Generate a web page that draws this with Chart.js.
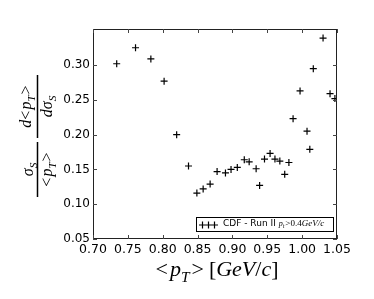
<!DOCTYPE html>
<html>
<head>
<meta charset="utf-8">
<script src="https://cdn.jsdelivr.net/npm/chart.js@4/dist/chart.umd.min.js"></script>
<style>
  html, body { margin: 0; padding: 0; background: #fff; }
</style>
</head>
<body>
<canvas id="c" width="374" height="299"></canvas>
<script>
const meanPt = [0.734, 0.761, 0.783, 0.802, 0.820, 0.837, 0.849, 0.858, 0.868, 0.878,
  0.890, 0.898, 0.907, 0.917, 0.924, 0.934, 0.939, 0.946, 0.954, 0.961,
  0.968, 0.975, 0.981, 0.987, 0.997, 1.007, 1.011, 1.016, 1.030, 1.040, 1.047];
const ratio = [0.302, 0.325, 0.309, 0.277, 0.200, 0.155, 0.116, 0.122, 0.129, 0.147,
  0.145, 0.150, 0.153, 0.164, 0.161, 0.151, 0.127, 0.165, 0.173, 0.165,
  0.162, 0.143, 0.160, 0.223, 0.263, 0.205, 0.179, 0.295, 0.339, 0.259, 0.252];
const xTicks = [0.70, 0.75, 0.80, 0.85, 0.90, 0.95, 1.00, 1.05];
const yTicks = [0.05, 0.10, 0.15, 0.20, 0.25, 0.30];

const SERIF = '"Liberation Serif", "DejaVu Serif", serif';
const SANS = '"DejaVu Sans", sans-serif';

// draw a run of math-ish pieces, centred on x
function mathRun(ctx, parts, x, y, size) {
  const widths = parts.map(p => {
    ctx.font = (p.it ? 'italic ' : '') + (p.sub ? size * 0.7 : size) + 'px ' + SERIF;
    return ctx.measureText(p.t).width + (p.gap || 0);
  });
  let cx = x - widths.reduce((a, b) => a + b, 0) / 2;
  parts.forEach((p, i) => {
    ctx.font = (p.it ? 'italic ' : '') + (p.sub ? size * 0.7 : size) + 'px ' + SERIF;
    ctx.fillText(p.t, cx, p.sub ? y + size * 0.25 : y);
    cx += widths[i];
  });
}

const decor = {
  id: 'decor',
  afterDraw(chart) {
    const ctx = chart.ctx;
    const a = chart.chartArea;
    const xs = chart.scales.x, ys = chart.scales.y;
    ctx.save();
    // frame
    ctx.strokeStyle = '#222';
    ctx.lineWidth = 1;
    ctx.strokeRect(a.left + 0.5, a.top + 0.5, a.right - a.left - 1, a.bottom - a.top - 1);
    // inward ticks on all sides
    ctx.strokeStyle = '#444';
    ctx.beginPath();
    xTicks.forEach(v => {
      const px = Math.round(xs.getPixelForValue(v)) + 0.5;
      ctx.moveTo(px, a.bottom); ctx.lineTo(px, a.bottom - 4);
      ctx.moveTo(px, a.top); ctx.lineTo(px, a.top + 4);
    });
    yTicks.forEach(v => {
      const py = Math.round(ys.getPixelForValue(v)) + 0.5;
      ctx.moveTo(a.left, py); ctx.lineTo(a.left + 4, py);
      ctx.moveTo(a.right, py); ctx.lineTo(a.right - 4, py);
    });
    ctx.stroke();

    // legend box
    const lx = 196, ly = 217, lw = 137, lh = 14;
    ctx.fillStyle = '#fff';
    ctx.fillRect(lx, ly, lw, lh);
    ctx.strokeStyle = '#000';
    ctx.strokeRect(lx + 0.5, ly + 0.5, lw, lh);
    ctx.lineWidth = 1.2;
    ctx.beginPath();
    [202.5, 208.5, 214.5].forEach(mx => {
      ctx.moveTo(mx - 3.5, 225); ctx.lineTo(mx + 3.5, 225);
      ctx.moveTo(mx, 221.5); ctx.lineTo(mx, 228.5);
    });
    ctx.stroke();
    ctx.fillStyle = '#000';
    ctx.textBaseline = 'middle';
    ctx.textAlign = 'left';
    ctx.font = '9px ' + SANS;
    const lbl = 'CDF - Run II ';
    ctx.fillText(lbl, 223, 224);
    let tx = 223 + ctx.measureText(lbl).width;
    ctx.font = 'italic 8px ' + SERIF;
    ctx.fillText('p', tx, 224);
    tx += ctx.measureText('p').width;
    ctx.font = 'italic 6px ' + SERIF;
    ctx.fillText('t', tx, 226);
    tx += ctx.measureText('t').width + 1;
    ctx.font = '9px ' + SERIF;
    ctx.fillText('>0.4', tx, 224);
    tx += ctx.measureText('>0.4').width;
    ctx.font = 'italic 9px ' + SERIF;
    ctx.fillText('GeV/c', tx, 224);

    // x title
    ctx.textAlign = 'left';
    ctx.textBaseline = 'alphabetic';
    mathRun(ctx, [
      { t: '<', gap: 2 }, { t: 'p', it: true }, { t: 'T', it: true, sub: true, gap: 2 },
      { t: '>', gap: 5 }, { t: '[' }, { t: 'GeV', it: true }, { t: '/' }, { t: 'c', it: true }, { t: ']' }
    ], 217, 276, 22);

    // y title, two stacked fractions rotated
    ctx.translate(37.5, 136);
    ctx.rotate(-Math.PI / 2);
    ctx.lineWidth = 1.5;
    ctx.strokeStyle = '#000';
    ctx.beginPath();
    ctx.moveTo(-61, 0); ctx.lineTo(-6, 0);
    ctx.moveTo(-2, 0); ctx.lineTo(61, 0);
    ctx.stroke();
    const fs = 16;
    mathRun(ctx, [{ t: 'σ', it: true }, { t: 'S', it: true, sub: true }], -33.5, -5, fs);
    mathRun(ctx, [{ t: '<', gap: 1 }, { t: 'p', it: true }, { t: 'T', it: true, sub: true, gap: 1 }, { t: '>' }], -33.5, 14, fs);
    mathRun(ctx, [{ t: 'd', it: true }, { t: '<', gap: 1 }, { t: 'p', it: true }, { t: 'T', it: true, sub: true, gap: 1 }, { t: '>' }], 29.5, -7, fs);
    mathRun(ctx, [{ t: 'dσ', it: true }, { t: 'S', it: true, sub: true }], 29.5, 14, fs);
    ctx.restore();
  }
};

new Chart(document.getElementById('c'), {
  type: 'scatter',
  data: {
    datasets: [{
      label: 'CDF - Run II',
      data: meanPt.map((x, i) => ({ x: x, y: ratio[i] })),
      pointStyle: 'cross',
      pointRadius: 3.5,
      borderColor: '#000',
      backgroundColor: '#000',
      borderWidth: 1.2
    }]
  },
  plugins: [decor],
  options: {
    responsive: false,
    animation: false,
    layout: { padding: { top: 29, right: 37, left: 0, bottom: 0 } },
    plugins: { legend: { display: false }, tooltip: { enabled: false } },
    scales: {
      x: {
        type: 'linear',
        min: 0.70,
        max: 1.05,
        grid: { display: false, drawTicks: false },
        border: { display: false },
        ticks: {
          color: '#000',
          font: { family: SANS, size: 12.5 },
          padding: 3,
          maxRotation: 0,
          autoSkip: false,
          callback: v => v.toFixed(2)
        },
        afterBuildTicks: s => { s.ticks = xTicks.map(v => ({ value: v })); },
        afterFit: s => { s.height = 60; }
      },
      y: {
        min: 0.05,
        max: 0.352,
        grid: { display: false, drawTicks: false },
        border: { display: false },
        ticks: {
          color: '#000',
          font: { family: SANS, size: 12 },
          padding: 3,
          autoSkip: false,
          callback: v => v.toFixed(2)
        },
        afterBuildTicks: s => { s.ticks = yTicks.map(v => ({ value: v })); },
        afterFit: s => { s.width = 93; }
      }
    }
  }
});
</script>
</body>
</html>
